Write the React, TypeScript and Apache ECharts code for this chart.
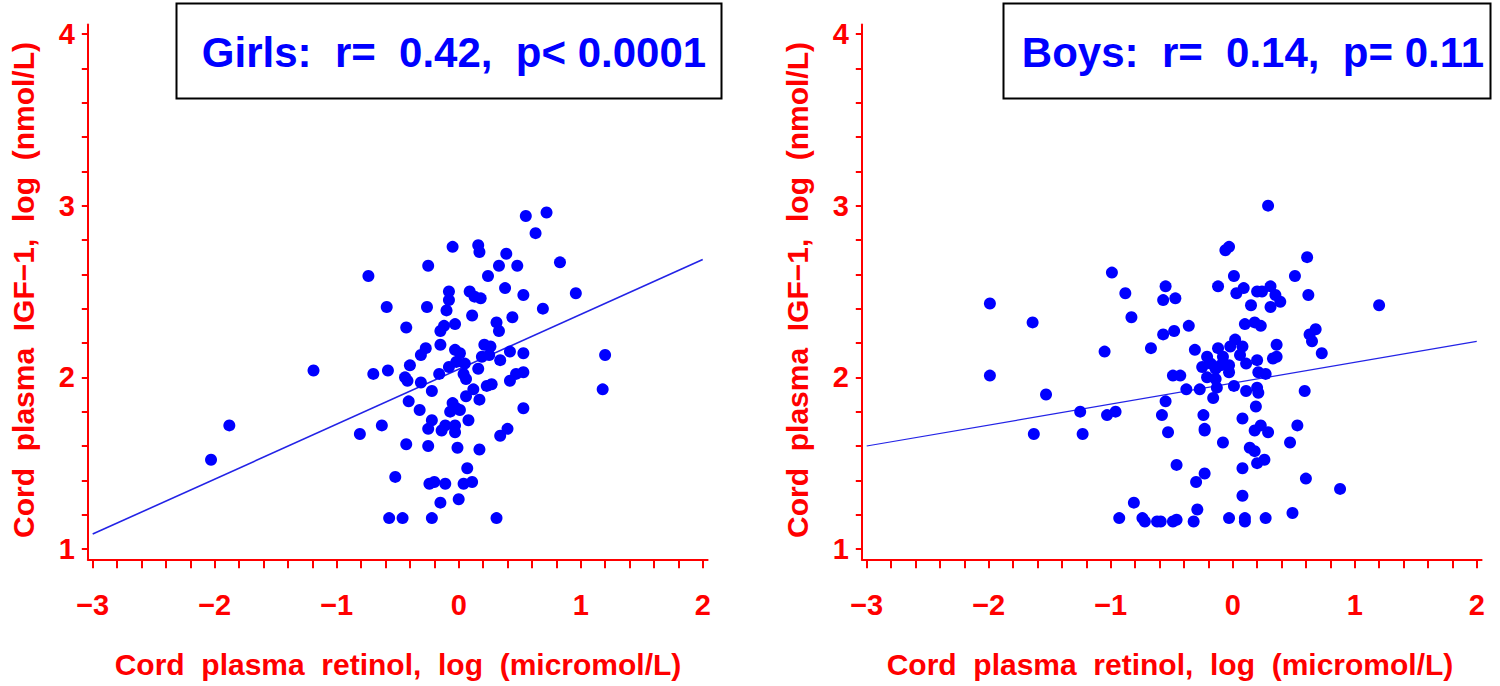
import React, { useEffect, useRef } from "react";
import * as echarts from "echarts";

// Girls: [log retinol, log IGF-1]
const girlsPoints: number[][] = [
  [0.72, 2.96], [0.55, 2.94], [0.63, 2.84], [-0.05, 2.76], [0.16, 2.77], [0.17, 2.73], [0.39, 2.72],
  [-0.25, 2.65], [0.33, 2.65], [0.48, 2.65], [0.83, 2.67], [-0.74, 2.59], [0.24, 2.59], [-0.08, 2.5],
  [0.09, 2.5], [0.13, 2.47], [0.18, 2.46], [0.38, 2.52], [0.53, 2.48], [0.96, 2.49], [-0.08, 2.45],
  [-0.1, 2.39], [-0.59, 2.41], [-0.26, 2.41], [0.69, 2.4], [0.11, 2.36], [0.44, 2.35], [-0.43, 2.29],
  [-0.12, 2.3], [-0.03, 2.31], [-0.15, 2.27], [0.31, 2.32], [0.33, 2.27], [-0.15, 2.19], [-0.27, 2.17],
  [-0.31, 2.13], [-0.03, 2.16], [0.21, 2.19], [0.26, 2.18], [0.01, 2.14], [0.19, 2.12], [0.25, 2.13],
  [0.34, 2.1], [0.42, 2.15], [0.53, 2.14], [1.2, 2.13], [-0.4, 2.07], [-0.02, 2.09], [0.05, 2.08],
  [-0.08, 2.06], [0.16, 2.05], [-1.19, 2.04], [-0.7, 2.02], [-0.58, 2.04], [-0.44, 2.0], [-0.16, 2.02],
  [0.04, 2.02], [0.47, 2.02], [0.53, 2.03], [-0.42, 1.98], [-0.31, 1.97], [0.06, 1.99], [0.23, 1.95],
  [0.27, 1.96], [0.42, 1.98], [1.18, 1.93], [-0.22, 1.92], [0.12, 1.93], [0.06, 1.89], [-0.41, 1.86],
  [-0.05, 1.85], [0.17, 1.87], [-0.32, 1.81], [-0.07, 1.8], [-0.02, 1.82], [0.01, 1.81], [0.53, 1.82],
  [-0.22, 1.75], [0.08, 1.75], [-0.63, 1.72], [-0.81, 1.67], [-0.25, 1.7], [-0.14, 1.69], [-0.11, 1.72],
  [-0.03, 1.72], [-0.03, 1.68], [0.4, 1.7], [0.34, 1.66], [-0.43, 1.61], [-0.25, 1.6], [-0.01, 1.59],
  [0.17, 1.58], [0.07, 1.47], [-0.52, 1.42], [-0.24, 1.38], [-0.2, 1.39], [-0.11, 1.38], [0.04, 1.38],
  [0.11, 1.39], [-0.15, 1.27], [0.0, 1.29], [-0.57, 1.18], [-0.46, 1.18], [-0.22, 1.18], [0.31, 1.18],
  [-1.88, 1.72], [-2.03, 1.52],
];

// Boys: [log retinol, log IGF-1]
const boysPoints: number[][] = [
  [-0.99, 2.61], [-0.88, 2.49], [-1.99, 2.43], [-1.64, 2.32], [-0.83, 2.35], [-1.05, 2.15], [-0.67, 2.17],
  [-1.99, 2.01], [-1.53, 1.9], [-1.25, 1.8], [-1.03, 1.78], [-0.96, 1.8], [-1.63, 1.67], [-1.23, 1.67],
  [-0.57, 2.45], [-0.57, 2.25], [-0.58, 1.78], [-0.81, 1.27], [-0.93, 1.18], [-0.74, 1.18], [-0.72, 1.16],
  [-0.62, 1.16], [-0.59, 1.16], [0.29, 3.0], [-0.06, 2.74], [-0.03, 2.76], [0.61, 2.7], [0.01, 2.59],
  [0.51, 2.59], [-0.55, 2.53], [-0.47, 2.46], [-0.12, 2.53], [0.03, 2.49], [0.09, 2.52], [0.2, 2.5],
  [0.24, 2.5], [0.31, 2.53], [0.35, 2.48], [0.39, 2.44], [0.31, 2.41], [0.15, 2.42], [0.62, 2.48],
  [1.2, 2.42], [-0.36, 2.3], [-0.48, 2.27], [0.1, 2.31], [0.18, 2.32], [0.23, 2.3], [0.63, 2.25],
  [0.68, 2.28], [0.65, 2.21], [0.73, 2.14], [-0.31, 2.16], [-0.12, 2.17], [0.02, 2.22], [-0.02, 2.18],
  [0.08, 2.18], [0.36, 2.19], [-0.21, 2.12], [-0.08, 2.12], [0.06, 2.13], [0.2, 2.1], [0.36, 2.12],
  [-0.25, 2.06], [-0.18, 2.08], [-0.14, 2.05], [-0.1, 2.07], [-0.03, 2.07], [-0.03, 2.03], [0.11, 2.08],
  [0.21, 2.03], [0.27, 2.02], [0.33, 2.11], [-0.49, 2.01], [-0.43, 2.01], [-0.21, 2.0], [-0.14, 1.99],
  [-0.38, 1.93], [-0.27, 1.93], [-0.13, 1.94], [0.01, 1.95], [0.11, 1.92], [0.2, 1.94], [0.21, 1.91],
  [0.59, 1.92], [-0.16, 1.88], [-0.55, 1.86], [-0.24, 1.78], [0.19, 1.83], [0.08, 1.76], [-0.23, 1.7],
  [-0.23, 1.69], [-0.53, 1.68], [0.23, 1.72], [0.18, 1.69], [0.29, 1.68], [0.53, 1.72], [0.47, 1.62],
  [-0.08, 1.62], [0.14, 1.59], [0.18, 1.57], [0.2, 1.5], [0.26, 1.52], [-0.46, 1.49], [-0.23, 1.44],
  [0.08, 1.47], [-0.3, 1.39], [0.6, 1.41], [0.88, 1.35], [0.08, 1.31], [-0.29, 1.23], [0.49, 1.21],
  [-0.49, 1.16], [-0.46, 1.17], [-0.32, 1.16], [-0.03, 1.18], [0.1, 1.18], [0.1, 1.16], [0.27, 1.18],
];

// Regression lines (end points)
const girlsFit: number[][] = [[-3, 1.087], [2, 2.687]];
const boysFit: number[][] = [[-3, 1.6], [2, 2.21]];

const xTickValues = [-3, -2.8, -2.6, -2.4, -2.2, -2, -1.8, -1.6, -1.4, -1.2, -1, -0.8, -0.6, -0.4, -0.2, 0, 0.2, 0.4, 0.6, 0.8, 1, 1.2, 1.4, 1.6, 1.8, 2];
const xLabelValues = [-3, -2, -1, 0, 1, 2];
const yTickValues = [1, 1.2, 1.4, 1.6, 1.8, 2, 2.2, 2.4, 2.6, 2.8, 3, 3.2, 3.4, 3.6, 3.8, 4];
const yLabelValues = [1, 2, 3, 4];

const girlsLabel = "Girls:  r=  0.42,  p< 0.0001";
const boysLabel = "Boys:  r=  0.14,  p= 0.11";
const xTitle = "Cord  plasma  retinol,  log  (micromol/L)";
const yTitle = "Cord  plasma  IGF\u22121,  log  (nmol/L)";

const RED = "#ff0000";
const BLUE = "#0000ff";
const FONT = "'Liberation Sans', Arial, Helvetica, sans-serif";

const fmt = (v: number) => {
  const r = Math.round(v);
  return r < 0 ? "\u2212" + Math.abs(r) : String(r);
};

export default function App() {
  const ref = useRef<HTMLDivElement>(null);
  useEffect(() => {
    if (!ref.current) return;
    const chart = echarts.init(ref.current, undefined, { renderer: "svg" });
    const gridW = 619.8;
    const gridH = 534.9;
    const grids = [
      { left: 87.8, top: 24.4, width: gridW, height: gridH },
      { left: 861.8, top: 24.4, width: gridW, height: gridH },
    ];
    const mkX = (i: number) => ({
      type: "value",
      gridIndex: i,
      min: -3.04,
      max: 2.04,
      axisLine: { onZero: false, lineStyle: { color: RED, width: 2 } },
      axisTick: { show: true, customValues: xTickValues, length: 9, inside: false, lineStyle: { color: RED, width: 2 } },
      axisLabel: {
        customValues: xLabelValues,
        formatter: fmt,
        color: RED,
        fontSize: 29,
        fontWeight: "bold",
        fontFamily: FONT,
        margin: 31,
      },
      splitLine: { show: false },
    });
    const mkY = (i: number) => ({
      type: "value",
      gridIndex: i,
      min: 0.94,
      max: 4.056,
      axisLine: { show: true, onZero: false, lineStyle: { color: RED, width: 2 } },
      axisTick: { show: true, customValues: yTickValues, length: 6, inside: false, lineStyle: { color: RED, width: 2 } },
      axisLabel: {
        customValues: yLabelValues,
        formatter: fmt,
        color: RED,
        fontSize: 29,
        fontWeight: "bold",
        fontFamily: FONT,
        margin: 13,
      },
      splitLine: { show: false },
    });
    const scatter = (i: number, data: number[][]) => ({
      type: "scatter",
      xAxisIndex: i,
      yAxisIndex: i,
      data,
      symbol: "circle",
      symbolSize: 12,
      itemStyle: { color: BLUE, opacity: 1 },
      z: 3,
    });
    const fit = (i: number, data: number[][], w: number) => ({
      type: "line",
      xAxisIndex: i,
      yAxisIndex: i,
      data,
      showSymbol: false,
      symbol: "none",
      lineStyle: { color: "#2323e6", width: w },
      z: 2,
    });
    const titleText = (x: number, y: number, text: string, rotation = 0) => ({
      type: "text",
      x,
      y,
      rotation,
      style: {
        text,
        fill: RED,
        font: `bold 30px ${FONT}`,
        textAlign: "center",
        textVerticalAlign: "middle",
      },
    });
    chart.setOption({
      animation: false,
      backgroundColor: "#ffffff",
      grid: grids,
      xAxis: [mkX(0), mkX(1)],
      yAxis: [mkY(0), mkY(1)],
      series: [
        fit(0, girlsFit, 1.6),
        scatter(0, girlsPoints),
        fit(1, boysFit, 1.2),
        scatter(1, boysPoints),
      ],
      graphic: [
        {
          type: "rect",
          shape: { x: 176.5, y: 3.5, width: 545, height: 95 },
          style: { fill: "#ffffff", stroke: "#000000", lineWidth: 2 },
          z: 10,
        },
        {
          type: "text",
          x: 454,
          y: 52,
          z: 11,
          style: { text: girlsLabel, fill: BLUE, font: `bold 42px ${FONT}`, textAlign: "center", textVerticalAlign: "middle" },
        },
        {
          type: "rect",
          shape: { x: 1003.5, y: 3.5, width: 487, height: 95 },
          style: { fill: "#ffffff", stroke: "#000000", lineWidth: 2 },
          z: 10,
        },
        {
          type: "text",
          x: 1253,
          y: 52,
          z: 11,
          style: { text: boysLabel, fill: BLUE, font: `bold 42px ${FONT}`, textAlign: "center", textVerticalAlign: "middle" },
        },
        titleText(398, 664, xTitle),
        titleText(1170, 664, xTitle),
        titleText(23, 290, yTitle, Math.PI / 2),
        titleText(797, 290, yTitle, Math.PI / 2),
      ],
    });
    return () => chart.dispose();
  }, []);
  return (
    <div
      ref={ref}
      style={{ position: "fixed", left: 0, top: 0, width: 1500, height: 686, background: "#fff" }}
    />
  );
}
